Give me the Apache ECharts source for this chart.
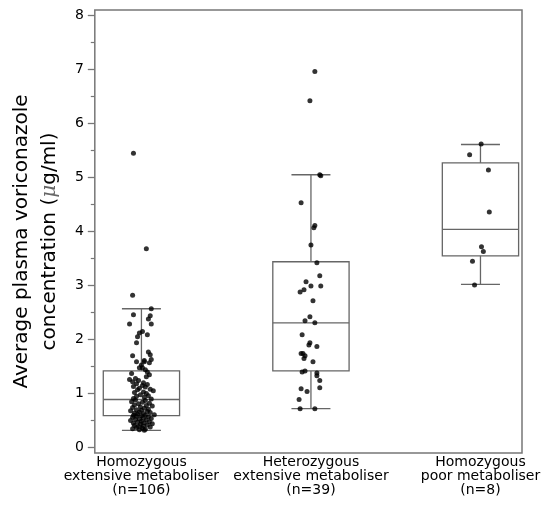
<!DOCTYPE html>
<html>
<head>
<meta charset="utf-8">
<script src="https://cdn.jsdelivr.net/npm/echarts@6/dist/echarts.min.js"></script>
<style>
html,body{margin:0;padding:0;background:#fff;}
#chart{width:543px;height:514px;}
</style>
</head>
<body>
<div id="chart"></div>
<script>
// 分组名称
var groupNames = [
    "Homozygous\nextensive metaboliser\n(n=106)",
    "Heterozygous\nextensive metaboliser\n(n=39)",
    "Homozygous\npoor metaboliser\n(n=8)"
];
var groupPos = [1, 2, 3];

// 箱线图统计量: [下须, Q1, 中位数, Q3, 上须]
var boxStats = [
    [0.32, 0.59, 0.89, 1.42, 2.57],
    [0.72, 1.42, 2.31, 3.44, 5.05],
    [3.02, 3.55, 4.04, 5.27, 5.61]
];

// 各组散点 (数值 + 水平抖动)
var g1Values = [
    5.45, 3.68, 2.82, 2.57, 2.46, 2.44, 2.38, 2.29, 2.29, 2.15, 2.12, 2.09, 2.05, 1.94, 1.77, 1.72, 1.70, 1.63, 1.61, 1.59, 1.59, 1.57, 1.53, 1.48, 1.48, 1.44, 1.40,
    1.37, 1.35, 1.31, 1.28, 1.26, 1.24, 1.22, 1.20, 1.18, 1.17, 1.15, 1.13, 1.12, 1.10, 1.08, 1.07, 1.05, 1.03, 1.02, 1.00, 0.98, 0.96, 0.95, 0.93, 0.91, 0.90,
    0.88, 0.87, 0.85, 0.84, 0.82, 0.81, 0.79, 0.78, 0.77, 0.75, 0.74, 0.73, 0.71, 0.70, 0.69, 0.68, 0.67, 0.66, 0.65, 0.64, 0.63, 0.62, 0.61, 0.60, 0.60, 0.59,
    0.58, 0.57, 0.56, 0.55, 0.54, 0.53, 0.52, 0.51, 0.50, 0.49, 0.48, 0.47, 0.46, 0.45, 0.44, 0.43, 0.42, 0.41, 0.40, 0.39, 0.38, 0.37, 0.36, 0.35, 0.34, 0.33, 0.32
];
var g1Jitter = [
    -0.047, 0.029, -0.052, 0.058, -0.047, 0.052, 0.041, -0.07, 0.058, 0.006, -0.012, 0.035, -0.023, -0.029, 0.041, 0.052, -0.052, 0.058, 0.017, -0.029, 0.017, 0.047, 0, -0.012, 0.006, 0.023, 0.035,
    -0.058, 0.047, 0.029, -0.035, -0.07, -0.017, -0.052, 0.012, -0.029, 0.035, 0.006, -0.047, 0.023, -0.012, 0.052, -0.023, 0.07, 0.012, -0.041, 0.029, -0.006, 0.041, -0.029, 0.017, -0.047, 0.058,
    -0.035, 0.023, -0.058, 0.006, 0.047, -0.017, -0.041, 0.029, 0.064, -0.006, -0.052, 0.017, 0.041, -0.029, 0, -0.064, 0.035, -0.012, 0.052, -0.041, 0.012, -0.023, 0.076, -0.047, 0.023, 0,
    -0.029, 0.041, -0.052, 0.012, 0.058, -0.012, -0.035, 0.029, -0.064, 0, 0.047, -0.023, 0.017, -0.047, 0.064, -0.006, 0.035, -0.041, 0.012, -0.017, 0.052, -0.029, 0.006, -0.052, 0.023, -0.012, 0.017
];
var g2Values = [
    6.96, 6.42, 5.05, 5.03, 4.53, 4.11, 4.07, 3.75, 3.42, 3.18, 3.07, 2.88, 2.92, 2.99, 2.99, 2.72, 2.35, 2.42, 2.31, 2.09,
    1.94, 1.87, 1.74, 1.74, 1.70, 1.65, 1.59, 1.40, 1.42, 1.38, 1.33, 1.24, 1.11, 1.09, 1.04, 0.89, 0.72, 0.72, 1.90
];
var g2Jitter = [
    0.023, -0.006, 0.052, 0.058, -0.058, 0.023, 0.017, 0, 0.035, 0.052, -0.029, -0.064, -0.041, 0, 0.058, 0.012, -0.035, -0.006, 0.023, -0.052,
    -0.006, 0.035, -0.058, -0.047, -0.035, -0.041, 0.012, -0.052, -0.035, 0.035, 0.035, 0.052, 0.052, -0.058, -0.023, -0.07, -0.064, 0.023, -0.012
];
var g3Values = [5.62, 5.42, 5.14, 4.36, 3.72, 3.63, 3.45, 3.01];
var g3Jitter = [0.004, -0.064, 0.047, 0.052, 0.006, 0.017, -0.047, -0.035];

// 刻度
var yMajorTicks = [0, 1, 2, 3, 4, 5, 6, 7, 8];
var yMinorTicks = [0.5, 1.5, 2.5, 3.5, 4.5, 5.5, 6.5, 7.5];

var FONT = "DejaVu Sans";
var BOX_W = 0.45, CAP_W = 0.23;

// 组成散点数据
function buildPoints(){
    var groups = [[g1Values, g1Jitter], [g2Values, g2Jitter], [g3Values, g3Jitter]];
    var pts = [];
    for(var g=0;g<groups.length;g++){
        var vals = groups[g][0], jit = groups[g][1];
        for(var i=0;i<vals.length;i++){
            pts.push([groupPos[g] + jit[i], vals[i]]);
        }
    }
    return pts;
}

// 画箱体
function renderBox(params, api){
    var x = api.value(0);
    var lo = api.coord([x, api.value(1)]);
    var q1 = api.coord([x, api.value(2)]);
    var md = api.coord([x, api.value(3)]);
    var q3 = api.coord([x, api.value(4)]);
    var hi = api.coord([x, api.value(5)]);
    var bw = api.size([BOX_W, 0])[0];
    var cw = api.size([CAP_W, 0])[0];
    var st = {stroke: "#666", lineWidth: 1.3, fill: null};
    var cx = lo[0];
    return {
        type: "group",
        children: [
            {type: "rect", shape: {x: cx - bw/2, y: q3[1], width: bw, height: q1[1] - q3[1]}, style: st},
            {type: "line", shape: {x1: cx - bw/2, y1: md[1], x2: cx + bw/2, y2: md[1]}, style: st},
            {type: "line", shape: {x1: cx, y1: hi[1], x2: cx, y2: q3[1]}, style: st},
            {type: "line", shape: {x1: cx, y1: q1[1], x2: cx, y2: lo[1]}, style: st},
            {type: "line", shape: {x1: cx - cw/2, y1: hi[1], x2: cx + cw/2, y2: hi[1]}, style: st},
            {type: "line", shape: {x1: cx - cw/2, y1: lo[1], x2: cx + cw/2, y2: lo[1]}, style: st}
        ]
    };
}

var boxData = [];
for(var i=0;i<boxStats.length;i++){
    boxData.push([groupPos[i]].concat(boxStats[i]));
}

var chart = echarts.init(document.getElementById("chart"), null, {renderer: "canvas"});
var option = {
    animation: false,
    backgroundColor: "#fff",
    grid: {
        left: 90, right: 21, top: 10, bottom: 61,
        show: true, borderColor: "#777", borderWidth: 1.5, backgroundColor: "transparent"
    },
    xAxis: {
        type: "value",
        min: 0.725, max: 3.245,
        axisLine: {show: false},
        axisTick: {show: false},
        splitLine: {show: false},
        axisLabel: {
            customValues: groupPos,
            formatter: function(v){ return groupNames[Math.round(v) - 1]; },
            margin: 2,
            fontFamily: FONT, fontSize: 14, lineHeight: 14, color: "#000"
        }
    },
    yAxis: [{
        type: "value",
        min: -0.1, max: 8.1,
        position: "left",
        axisLine: {show: false},
        splitLine: {show: false},
        axisTick: {show: true, customValues: yMajorTicks, length: 7, lineStyle: {color: "#777", width: 1.3}},
        axisLabel: {customValues: yMajorTicks, margin: 11, fontFamily: FONT, fontSize: 14, color: "#000"},
        name: "Average plasma voriconazole\nconcentration ({mu|\u03bc}g/ml)",
        nameLocation: "middle",
        nameRotate: 90,
        nameGap: 26,
        nameTextStyle: {
            fontFamily: FONT, fontSize: 20, lineHeight: 28, color: "#000",
            padding: [0, 20, 0, 0],
            rich: {mu: {fontFamily: "DejaVu Serif", fontStyle: "italic", fontSize: 20, color: "#666"}}
        }
    }, {
        type: "value",
        min: -0.1, max: 8.1,
        position: "left",
        axisLine: {show: false},
        splitLine: {show: false},
        axisLabel: {show: false},
        axisTick: {show: true, customValues: yMinorTicks, length: 4, lineStyle: {color: "#777", width: 1.2}}
    }],
    series: [{
        type: "custom",
        renderItem: renderBox,
        data: boxData,
        encode: {x: 0, y: [1, 2, 3, 4, 5]},
        z: 2,
        silent: true
    }, {
        type: "scatter",
        data: buildPoints(),
        symbol: "circle",
        symbolSize: 5,
        itemStyle: {color: "#000"},
        z: 3,
        silent: true
    }]
};
chart.setOption(option, true);
</script>
</body>
</html>
